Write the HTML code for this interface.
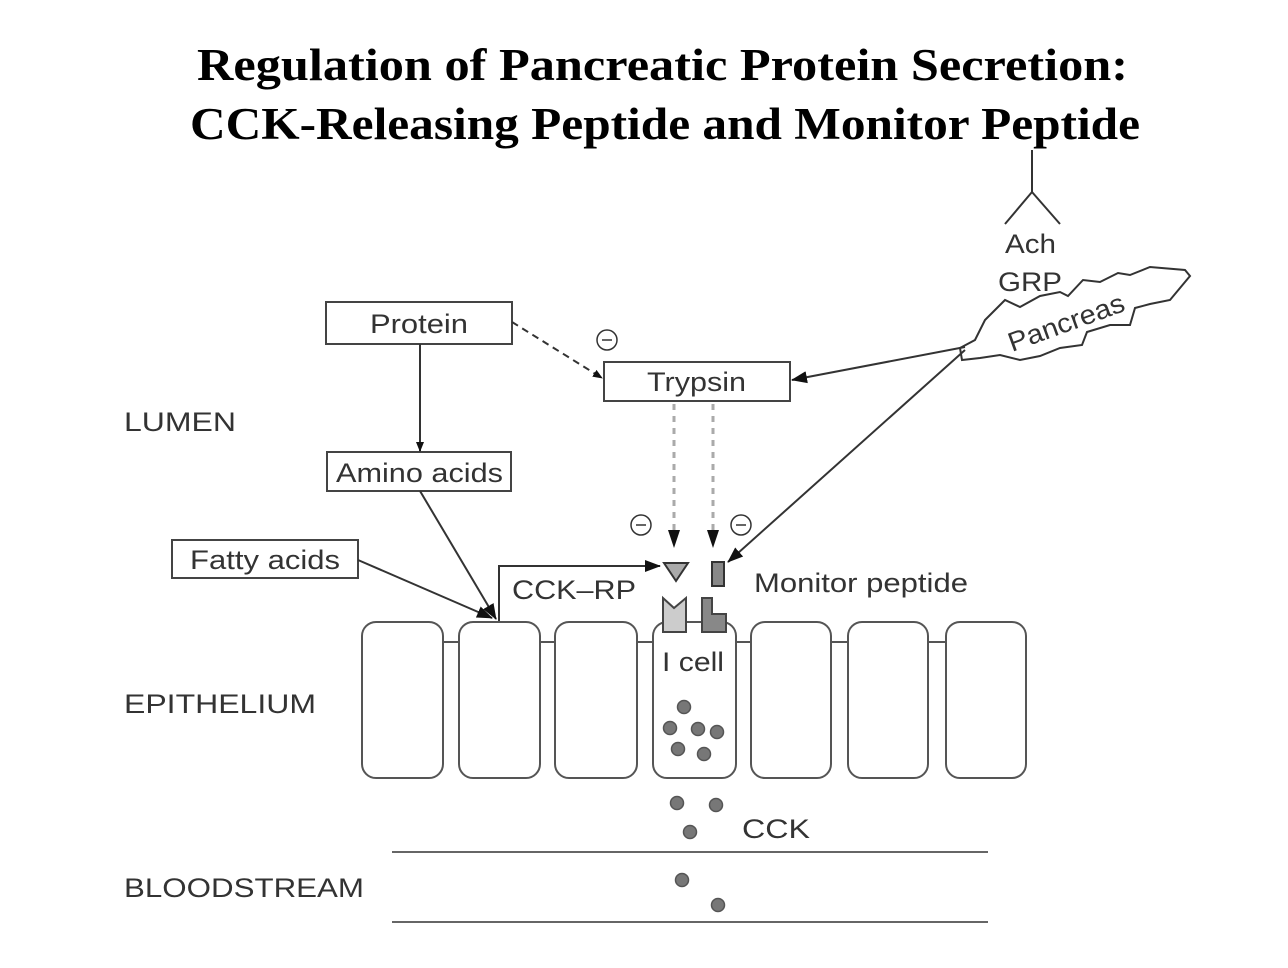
<!DOCTYPE html>
<html><head><meta charset="utf-8"><style>
html,body{margin:0;padding:0;background:#fff;}
svg{display:block}
.t{font-family:"Liberation Serif",serif;font-weight:bold;font-size:45px;fill:#000}
.s{font-family:"Liberation Sans",sans-serif;font-size:27px;fill:#333}
</style></head><body>
<svg width="1288" height="968" viewBox="0 0 1288 968" xmlns="http://www.w3.org/2000/svg">
<defs>
<marker id="a" markerWidth="10" markerHeight="10" refX="9" refY="5" orient="auto" markerUnits="userSpaceOnUse" viewBox="0 0 10 10"><path d="M0,1 L10,5 L0,9 z" fill="#111"/></marker>
<marker id="b" markerWidth="16" markerHeight="14" refX="15" refY="7" orient="auto" markerUnits="userSpaceOnUse" viewBox="0 0 16 14"><path d="M0,1 L16,7 L0,13 z" fill="#111"/></marker>
</defs>
<text class="t" x="197" y="80" textLength="931" lengthAdjust="spacingAndGlyphs">Regulation of  Pancreatic Protein Secretion:</text>
<text class="t" x="190" y="139" textLength="950" lengthAdjust="spacingAndGlyphs">CCK-Releasing Peptide and Monitor Peptide</text>

<g fill="none" stroke="#444" stroke-width="2">
<rect x="326" y="302" width="186" height="42"/>
<rect x="604" y="362" width="186" height="39"/>
<rect x="327" y="452" width="184" height="39"/>
<rect x="172" y="540" width="186" height="38"/>
</g>
<text class="s" x="370" y="333" textLength="98" lengthAdjust="spacingAndGlyphs">Protein</text>
<text class="s" x="647" y="391" textLength="99" lengthAdjust="spacingAndGlyphs">Trypsin</text>
<text class="s" x="336" y="482" textLength="167" lengthAdjust="spacingAndGlyphs">Amino acids</text>
<text class="s" x="190" y="569" textLength="150" lengthAdjust="spacingAndGlyphs">Fatty acids</text>

<text class="s" x="124" y="431" textLength="112" lengthAdjust="spacingAndGlyphs">LUMEN</text>
<text class="s" x="124" y="713" textLength="192" lengthAdjust="spacingAndGlyphs">EPITHELIUM</text>
<text class="s" x="124" y="897" textLength="240" lengthAdjust="spacingAndGlyphs">BLOODSTREAM</text>

<g stroke="#333" stroke-width="2" fill="none">
<line x1="420" y1="344" x2="420" y2="451" marker-end="url(#a)"/>
<line x1="512" y1="322" x2="602" y2="378" stroke-dasharray="7,5" marker-end="url(#a)"/>
<line x1="420" y1="491" x2="496" y2="619" marker-end="url(#b)"/>
<line x1="358" y1="560" x2="492" y2="618" marker-end="url(#b)"/>
<polyline points="499,622 499,566 660,566" marker-end="url(#b)"/>
<line x1="965" y1="347" x2="792" y2="380" marker-end="url(#b)"/>
<line x1="965" y1="350" x2="728" y2="562" marker-end="url(#b)"/>
</g>
<g stroke="#aaa" stroke-width="3" stroke-dasharray="6,6">
<line x1="674" y1="404" x2="674" y2="530"/>
<line x1="713" y1="404" x2="713" y2="530"/>
</g>
<path d="M668,530 L680,530 L674,548 z M707,530 L719,530 L713,548 z" fill="#111"/>
<text class="s" x="512" y="599" textLength="124" lengthAdjust="spacingAndGlyphs">CCK–RP</text>
<g fill="none" stroke="#333" stroke-width="1.5">
<circle cx="607" cy="340" r="10"/><line x1="602" y1="340" x2="612" y2="340"/>
<circle cx="641" cy="525" r="10"/><line x1="636" y1="525" x2="646" y2="525"/>
<circle cx="741" cy="525" r="10"/><line x1="736" y1="525" x2="746" y2="525"/>
</g>
<path d="M664,563 L688,563 L676,581 z" fill="#aaa" stroke="#333" stroke-width="2"/>
<rect x="712" y="562" width="12" height="24" fill="#888" stroke="#333" stroke-width="2"/>
<text class="s" x="754" y="592" textLength="214" lengthAdjust="spacingAndGlyphs">Monitor peptide</text>

<g fill="none" stroke="#555" stroke-width="2">
<line x1="443" y1="642" x2="459" y2="642"/>
<line x1="540" y1="642" x2="555" y2="642"/>
<line x1="637" y1="642" x2="653" y2="642"/>
<line x1="736" y1="642" x2="751" y2="642"/>
<line x1="831" y1="642" x2="848" y2="642"/>
<line x1="928" y1="642" x2="946" y2="642"/>
<rect x="362" y="622" width="81" height="156" rx="14"/>
<rect x="459" y="622" width="81" height="156" rx="14"/>
<rect x="555" y="622" width="82" height="156" rx="14"/>
<rect x="653" y="622" width="83" height="156" rx="14"/>
<rect x="751" y="622" width="80" height="156" rx="14"/>
<rect x="848" y="622" width="80" height="156" rx="14"/>
<rect x="946" y="622" width="80" height="156" rx="14"/>
</g>
<path d="M663,632 L663,598 L674,608 L686,598 L686,632 z" fill="#ccc" stroke="#444" stroke-width="2"/>
<path d="M702,632 L702,598 L712,598 L712,614 L726,614 L726,632 z" fill="#888" stroke="#444" stroke-width="2"/>
<text class="s" x="662" y="671" textLength="62" lengthAdjust="spacingAndGlyphs">I cell</text>
<g fill="#777" stroke="#555" stroke-width="1.5">
<circle cx="684" cy="707" r="6.5"/><circle cx="670" cy="728" r="6.5"/><circle cx="698" cy="729" r="6.5"/>
<circle cx="717" cy="732" r="6.5"/><circle cx="678" cy="749" r="6.5"/><circle cx="704" cy="754" r="6.5"/>
<circle cx="677" cy="803" r="6.5"/><circle cx="716" cy="805" r="6.5"/><circle cx="690" cy="832" r="6.5"/>
<circle cx="682" cy="880" r="6.5"/><circle cx="718" cy="905" r="6.5"/>
</g>
<text class="s" x="742" y="838" textLength="68" lengthAdjust="spacingAndGlyphs">CCK</text>
<g stroke="#666" stroke-width="2">
<line x1="392" y1="852" x2="988" y2="852"/>
<line x1="392" y1="922" x2="988" y2="922"/>
</g>

<g fill="none" stroke="#333" stroke-width="2">
<polyline points="1032,150 1032,192"/>
<polyline points="1005,224 1032,192 1060,224"/>
<path d="M960,348 L975,340 L985,320 L1005,300 L1020,307 L1040,296 L1060,292 L1068,296 L1083,280 L1100,282 L1118,273 L1130,275 L1150,267 L1185,270 L1190,276 L1170,300 L1150,304 L1135,308 L1130,325 L1110,325 L1087,332 L1082,345 L1060,348 L1040,356 L1020,360 L1000,355 L980,358 L962,360 z"/>
</g>
<text class="s" x="1005" y="253" textLength="51" lengthAdjust="spacingAndGlyphs">Ach</text>
<text class="s" x="998" y="291" textLength="64" lengthAdjust="spacingAndGlyphs">GRP</text>
<text class="s" x="1012" y="352" transform="rotate(-20 1012 352)" textLength="122" lengthAdjust="spacingAndGlyphs">Pancreas</text>
</svg>
</body></html>
